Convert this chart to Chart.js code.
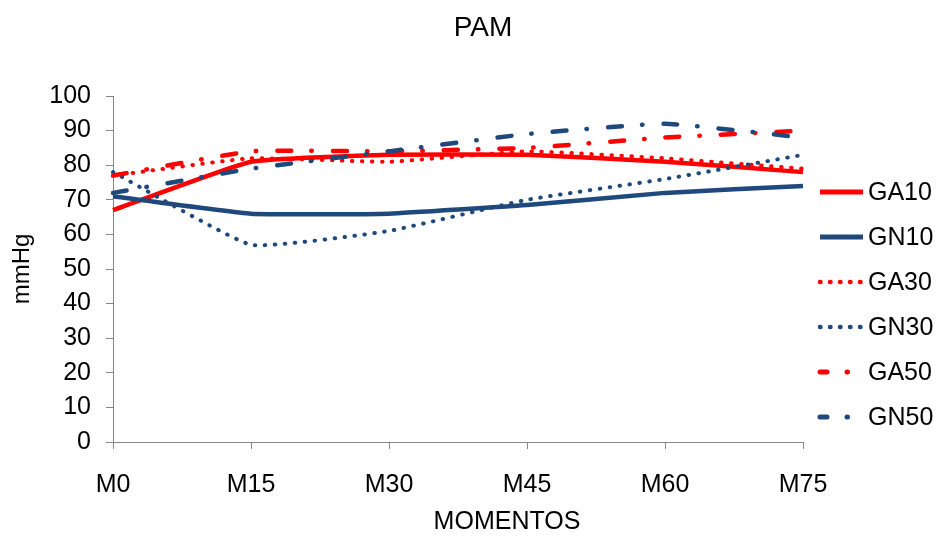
<!DOCTYPE html>
<html>
<head>
<meta charset="utf-8">
<title>PAM</title>
<script src="https://cdn.jsdelivr.net/npm/chart.js@4/dist/chart.umd.min.js"></script>
<style>
  html, body { margin: 0; padding: 0; background: #ffffff; }
  #wrap { width: 941px; height: 536px; }
</style>
</head>
<body>
<div id="wrap"><canvas id="pam" width="941" height="536"></canvas></div>
<script>
// Mean arterial pressure (mmHg) per group over the measurement moments
const momentos = ['M0', 'M15', 'M30', 'M45', 'M60', 'M75'];
const ga10 = [67, 81, 83, 83, 81, 78];
const gn10 = [71, 66, 66, 68.5, 72, 74];
const ga30 = [77, 82, 81, 84, 82, 79];
const gn30 = [78, 57, 61, 70, 76, 83];
const ga50 = [77, 84, 84, 85, 88, 90];
const gn50 = [72, 79, 84, 89, 92, 88];
const seriesNames = ['GA10', 'GN10', 'GA30', 'GN30', 'GA50', 'GN50'];
const yMin = 0, yMax = 100, yStep = 10;

const FONT = '"Liberation Sans", Arial, sans-serif';
const RED = '#ff0000';
const BLUE = '#1f497d';
const AXIS = '#868686';

const SOLID = [];
const DOTTED = [0.5, 9.5];
const DASHDOT = [14, 20, 0.5, 21];

function series(label, data, color, dash, width) {
  return {
    label, data,
    borderColor: color,
    backgroundColor: color,
    borderWidth: width,
    borderDash: dash,
    borderCapStyle: dash.length ? 'round' : 'butt',
    borderJoinStyle: 'round',
    pointRadius: 0,
    pointHoverRadius: 0,
    tension: 0.12,
    fill: false
  };
}

const datasets = [
  series(seriesNames[0], ga10, RED, SOLID, 4.5),
  series(seriesNames[1], gn10, BLUE, SOLID, 4.5),
  series(seriesNames[2], ga30, RED, DOTTED, 4),
  series(seriesNames[3], gn30, BLUE, DOTTED, 4),
  series(seriesNames[4], ga50, RED, DASHDOT, 4.5),
  series(seriesNames[5], gn50, BLUE, DASHDOT, 4.5)
];
// later series are painted over earlier ones
datasets.forEach((d, i) => { d.order = datasets.length - i; });

// Chart heading, x-axis caption and the series key at the right
const captions = {
  id: 'captions',
  afterDraw(chart, args, opts) {
    const ctx = chart.ctx;
    ctx.save();
    ctx.fillStyle = '#000';
    ctx.textBaseline = 'middle';
    ctx.textAlign = 'center';
    ctx.font = `28px ${FONT}`;
    ctx.fillText(opts.title, opts.titleX, opts.titleY);
    ctx.font = `25px ${FONT}`;
    ctx.fillText(opts.xTitle, opts.xTitleX, opts.xTitleY);

    // key
    ctx.textAlign = 'left';
    ctx.font = `25px ${FONT}`;
    chart.data.datasets.forEach((ds, i) => {
      const y = opts.keyTop + i * opts.keyStep;
      ctx.save();
      ctx.strokeStyle = ds.borderColor;
      ctx.lineWidth = ds.borderWidth + 0.5;
      ctx.lineCap = ds.borderCapStyle;
      ctx.setLineDash(ds.borderDash);
      ctx.lineDashOffset = ds.borderDash.length === 4 ? 7 : 0;
      ctx.beginPath();
      ctx.moveTo(opts.keyX0, y);
      ctx.lineTo(opts.keyX1, y);
      ctx.stroke();
      ctx.restore();
      ctx.fillStyle = '#000';
      ctx.fillText(ds.label, opts.keyX1 + 5, y + 1);
    });
    ctx.restore();
  }
};

new Chart(document.getElementById('pam'), {
  type: 'line',
  data: { labels: momentos, datasets },
  options: {
    responsive: false,
    animation: false,
    events: [],
    layout: { padding: { top: 96, right: 138, bottom: 0, left: 0 } },
    plugins: {
      legend: { display: false },
      title: { display: false },
      tooltip: { enabled: false },
      captions: {
        title: 'PAM', titleX: 483, titleY: 28,
        xTitle: 'MOMENTOS', xTitleX: 507, xTitleY: 522,
        keyX0: 820, keyX1: 863, keyTop: 192, keyStep: 45
      }
    },
    scales: {
      x: {
        type: 'category',
        offset: false,
        grid: { display: true, drawOnChartArea: false, drawTicks: true, tickLength: 7, color: AXIS, lineWidth: 1 },
        border: { display: true, color: AXIS, width: 1 },
        ticks: { color: '#000', font: { family: FONT, size: 25 }, padding: 21, maxRotation: 0, autoSkip: false },
        afterFit(s) { s.height = 94; }
      },
      y: {
        min: yMin, max: yMax,
        grid: { display: true, drawOnChartArea: false, drawTicks: true, tickLength: 7, color: AXIS, lineWidth: 1 },
        border: { display: true, color: AXIS, width: 1 },
        ticks: { stepSize: yStep, color: '#000', font: { family: FONT, size: 25 }, padding: 15 },
        title: { display: true, text: 'mmHg', color: '#000', font: { family: FONT, size: 24 }, padding: { top: 8, bottom: 4 } },
        afterFit(s) { s.width = 113; }
      }
    }
  },
  plugins: [captions]
});
</script>
</body>
</html>
